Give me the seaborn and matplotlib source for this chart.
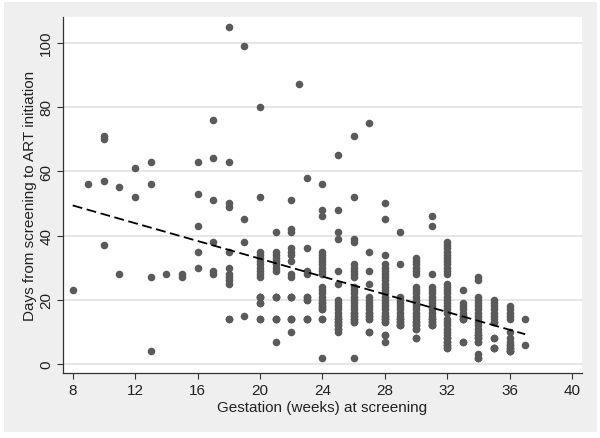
import matplotlib
matplotlib.use("Agg")
import matplotlib.pyplot as plt
from matplotlib.patches import Rectangle
import pandas as pd
import seaborn as sns

# Constants
DOT_COLOR = "#5a5a5a"
BG_COLOR = "#efefef"
GRID_COLOR = "#e6e6e6"
TEXT_COLOR = "#222222"
FONT = "Liberation Sans"

# Data: days to ART per gestation-week column
# (repeated values are overlapping dots in the dense columns)
wk_08 = [23]
wk_09 = [56]
wk_10 = [71, 70, 57, 37]
wk_11 = [55, 28]
wk_12 = [61, 52]
wk_13 = [63, 56, 27, 4]
wk_14 = [28]
wk_15 = [28, 27]
wk_16 = [63, 53, 43, 35, 30]
wk_17 = [76, 64, 51, 38, 29, 28]
wk_18 = [105, 63, 50, 49, 35, 30, 28, 27, 26, 25, 14, 14]
wk_19 = [99, 45, 38, 15]
wk_20 = [80, 52, 35, 34, 33, 32, 31, 30, 29, 28, 27, 21, 19, 14,
         21, 21, 19, 14]
wk_21 = [41, 35, 34, 33, 32, 31, 30, 29, 21, 14, 7, 21, 14, 14, 21]
wk_22 = [51, 42, 41, 36, 35, 34, 32, 28, 27, 21, 14, 10, 21, 14, 14, 21]
wk_22h = [87]
wk_23 = [58, 36, 29, 28, 21, 20, 14, 21, 14, 20, 14]
wk_24 = [56, 48, 46, 35, 34, 33, 32, 31, 30, 29, 28,
         24, 23, 22, 21, 20, 19, 18, 17, 14, 2, 17, 18, 19, 14]
wk_25 = [65, 48, 41, 39, 29, 25, 20, 19, 18, 17, 16, 15, 14, 13, 12, 11, 10,
         14, 13, 12, 11]
wk_26 = [71, 52, 39, 38, 31, 30, 29, 28, 27,
         24, 23, 22, 21, 20, 19, 18, 17, 16, 15, 14, 13, 2, 14, 13, 15, 16]
wk_27 = [75, 35, 29, 25, 21, 20, 19, 18, 17, 16, 15, 14, 10, 14, 15, 16, 10]
wk_28 = [50, 45, 34, 31, 30, 29, 28, 27, 26, 25, 24, 23, 22, 21,
         20, 19, 18, 17, 16, 15, 14, 13, 9, 7, 13, 14, 15, 9]
wk_29 = [41, 31, 21, 20, 19, 18, 17, 16, 15, 14, 13, 12, 12, 13, 14, 12]
wk_30 = [33, 32, 31, 30, 29, 28, 24, 23, 22, 21, 20, 19, 18, 17,
         16, 15, 14, 13, 12, 11, 8, 11, 12, 13, 8]
wk_31 = [46, 43, 28, 24, 23, 22, 21, 20, 19, 18, 17, 16, 15, 14, 13, 12,
         12, 13, 14, 12]
wk_32 = [38, 37, 36, 35, 34, 33, 32, 31, 30, 29, 28, 25, 24, 23, 22,
         21, 20, 19, 18, 17, 16, 14, 13, 12, 11, 10, 9, 8, 7, 6, 5,
         6, 7, 8, 5]
wk_33 = [23, 19, 18, 17, 16, 15, 14, 7, 14, 7, 15, 14]
wk_34 = [27, 26, 21, 20, 19, 18, 17, 16, 15, 14, 13, 12, 11, 10, 9, 8, 7,
         3, 2, 7, 8, 9, 2]
wk_35 = [20, 19, 18, 17, 16, 15, 14, 13, 8, 5, 5, 8, 13, 5]
wk_36 = [18, 17, 16, 15, 14, 10, 8, 7, 6, 5, 4, 4, 5, 6, 4]
wk_37 = [14, 6]

columns = {
    8: wk_08, 9: wk_09, 10: wk_10, 11: wk_11, 12: wk_12, 13: wk_13,
    14: wk_14, 15: wk_15, 16: wk_16, 17: wk_17, 18: wk_18, 19: wk_19,
    20: wk_20, 21: wk_21, 22: wk_22, 22.5: wk_22h, 23: wk_23, 24: wk_24,
    25: wk_25, 26: wk_26, 27: wk_27, 28: wk_28, 29: wk_29, 30: wk_30,
    31: wk_31, 32: wk_32, 33: wk_33, 34: wk_34, 35: wk_35, 36: wk_36,
    37: wk_37,
}

x_ticks = [8, 12, 16, 20, 24, 28, 32, 36, 40]
y_ticks = [0, 20, 40, 60, 80, 100]

df = pd.DataFrame(
    [(wk, d) for wk, days in columns.items() for d in days],
    columns=["gestation", "days"],
)

sns.set_theme(style="white")
plt.rcParams["font.family"] = [FONT, "DejaVu Sans"]

fig = plt.figure(figsize=(6.0, 4.39), dpi=100)
fig.patch.set_facecolor("white")
fig.add_artist(
    Rectangle((0.0067, 0.0137), 0.988, 0.98, transform=fig.transFigure,
              facecolor=BG_COLOR, edgecolor="none", zorder=-10)
)
ax = fig.add_axes([0.105, 0.148, 0.865, 0.811])
ax.set_facecolor("white")

sns.scatterplot(data=df, x="gestation", y="days", ax=ax, color=DOT_COLOR,
                s=30, linewidth=0, zorder=3)
sns.regplot(data=df, x="gestation", y="days", ax=ax, scatter=False, ci=None,
            line_kws=dict(color="black", lw=1.3, ls=(0, (5.5, 2.5)), zorder=4))

ax.set_xlim(7.38, 40.64)
ax.set_ylim(-2.8, 108)
ax.set_xticks(x_ticks)
ax.set_yticks(y_ticks)
ax.set_yticklabels([str(v) for v in y_ticks], rotation=90, va="center")
ax.yaxis.grid(True, color=GRID_COLOR, lw=1.4, zorder=0)
ax.xaxis.grid(False)

for side in ["top", "right"]:
    ax.spines[side].set_visible(False)
for side in ["left", "bottom"]:
    ax.spines[side].set_color("#333333")
    ax.spines[side].set_linewidth(0.9)

ax.tick_params(axis="both", which="major", direction="out", length=4,
               width=0.8, color="#333333", labelsize=11,
               labelcolor=TEXT_COLOR, pad=3, left=True, bottom=True)

ax.set_xlabel("Gestation (weeks) at screening", fontsize=11,
              color=TEXT_COLOR, labelpad=2.5)
ax.set_ylabel("Days from screening to ART initiation", fontsize=11,
              color=TEXT_COLOR, labelpad=1.5)

fig.savefig("out.png", dpi=100, facecolor=fig.get_facecolor())
